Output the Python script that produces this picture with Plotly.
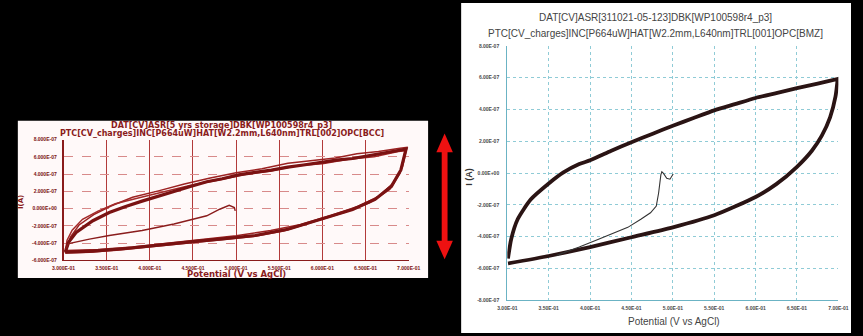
import plotly.graph_objects as go

W, H = 863, 336

# ---------------- Right chart data (reference CV) ----------------
r_lower_v = [0.3008, 0.35, 0.40, 0.45, 0.50, 0.55, 0.60, 0.625, 0.65, 0.668, 0.68, 0.69, 0.6965, 0.6992]
r_lower_i = [-5.69e-7, -5.22e-7, -4.66e-7, -4.04e-7, -3.42e-7, -2.66e-7, -1.51e-7, -0.70e-7, 0.39e-7,
             1.40e-7, 2.35e-7, 3.50e-7, 4.80e-7, 5.92e-7]
r_upper_v = [0.6992, 0.675, 0.65, 0.625, 0.60, 0.575, 0.55, 0.525, 0.50, 0.475, 0.45, 0.425, 0.40,
             0.3869, 0.3673, 0.35, 0.3282, 0.3125, 0.3047, 0.3008]
r_upper_i = [5.92e-7, 5.62e-7, 5.34e-7, 5.03e-7, 4.72e-7, 4.33e-7, 3.94e-7, 3.46e-7, 2.97e-7, 2.46e-7,
             1.94e-7, 1.38e-7, 0.80e-7, 0.56e-7, 0.02e-7, -0.66e-7, -1.67e-7, -2.91e-7, -4.15e-7, -5.38e-7]
r_first_v = [0.3595, 0.3732, 0.3869, 0.4065, 0.4300, 0.4456, 0.4613, 0.4730, 0.4800, 0.4828, 0.4855,
             0.4867, 0.4887, 0.4926, 0.4965, 0.5004]
r_first_i = [-5.18e-7, -4.93e-7, -4.66e-7, -4.25e-7, -3.73e-7, -3.42e-7, -2.91e-7, -2.50e-7, -2.08e-7,
             -1.26e-7, -0.12e-7, 0.08e-7, -0.02e-7, -0.33e-7, -0.39e-7, -0.06e-7]

r_xtick_vals = [0.30, 0.35, 0.40, 0.45, 0.50, 0.55, 0.60, 0.65, 0.70]
r_xtick_text = ["3.00E-01", "3.50E-01", "4.00E-01", "4.50E-01", "5.00E-01", "5.50E-01", "6.00E-01",
                "6.50E-01", "7.00E-01"]
r_ytick_vals = [-8e-7, -6e-7, -4e-7, -2e-7, 0, 2e-7, 4e-7, 6e-7, 8e-7]
r_ytick_text = ["-8.00E-07", "-6.00E-07", "-4.00E-07", "-2.00E-07", "0.00E+00", "2.00E-07",
                "4.00E-07", "6.00E-07", "8.00E-07"]
r_title1 = "DAT[CV]ASR[311021-05-123]DBK[WP100598r4_p3]"
r_title2 = "PTC[CV_charges]INC[P664uW]HAT[W2.2mm,L640nm]TRL[001]OPC[BMZ]"

# ---------------- Left chart data (after storage, several cycles) ----------------
l_main_v = [0.302, 0.334, 0.372, 0.409, 0.447, 0.484, 0.522, 0.560, 0.597, 0.635, 0.661, 0.680, 0.691,
            0.697, 0.691, 0.672, 0.654, 0.635, 0.616, 0.597, 0.578, 0.560, 0.541, 0.522, 0.503, 0.484,
            0.466, 0.447, 0.428, 0.409, 0.391, 0.372, 0.353, 0.334, 0.315, 0.306, 0.302]
l_main_i = [-5.05e-7, -4.94e-7, -4.63e-7, -4.30e-7, -3.87e-7, -3.52e-7, -3.12e-7, -2.40e-7, -1.22e-7,
            -0.10e-7, 1.06e-7, 2.57e-7, 4.47e-7, 6.90e-7, 6.78e-7, 6.45e-7, 6.20e-7, 5.80e-7, 5.62e-7,
            5.30e-7, 5.05e-7, 4.80e-7, 4.45e-7, 4.20e-7, 3.90e-7, 3.45e-7, 3.10e-7, 2.55e-7, 2.00e-7,
            1.45e-7, 0.86e-7, 0.25e-7, -0.46e-7, -1.41e-7, -2.73e-7, -3.87e-7, -5.05e-7]
l_cyc2_v = [0.303, 0.340, 0.380, 0.420, 0.460, 0.500, 0.540, 0.575, 0.610, 0.640, 0.665, 0.683, 0.693,
            0.698, 0.690, 0.665, 0.640, 0.615, 0.590, 0.560, 0.530, 0.500, 0.470, 0.440, 0.410, 0.380,
            0.355, 0.335, 0.318, 0.308, 0.303]
l_cyc2_i = [-4.85e-7, -4.75e-7, -4.45e-7, -4.05e-7, -3.60e-7, -3.15e-7, -2.55e-7, -1.85e-7, -0.80e-7,
            0.20e-7, 1.40e-7, 3.00e-7, 4.90e-7, 7.10e-7, 7.00e-7, 6.60e-7, 6.35e-7, 5.85e-7, 5.60e-7,
            5.25e-7, 4.60e-7, 4.15e-7, 3.55e-7, 2.85e-7, 2.05e-7, 1.30e-7, 0.30e-7, -0.70e-7, -1.90e-7,
            -3.30e-7, -4.85e-7]
l_cyc3_v = [0.302, 0.330, 0.365, 0.400, 0.440, 0.480, 0.520, 0.555, 0.590, 0.625, 0.655, 0.678, 0.690,
            0.696, 0.688, 0.660, 0.630, 0.600, 0.570, 0.540, 0.510, 0.480, 0.450, 0.420, 0.390, 0.360,
            0.340, 0.322, 0.310, 0.304, 0.302]
l_cyc3_i = [-5.15e-7, -5.05e-7, -4.80e-7, -4.45e-7, -4.00e-7, -3.60e-7, -3.25e-7, -2.60e-7, -1.55e-7,
            -0.45e-7, 0.70e-7, 2.20e-7, 4.10e-7, 6.70e-7, 6.60e-7, 6.00e-7, 5.70e-7, 5.20e-7, 4.95e-7,
            4.35e-7, 3.95e-7, 3.30e-7, 2.75e-7, 2.05e-7, 1.30e-7, 0.55e-7, -0.30e-7, -1.25e-7, -2.50e-7,
            -3.70e-7, -5.15e-7]
l_first_v = [0.302, 0.306, 0.330, 0.353, 0.391, 0.428, 0.466, 0.481, 0.492, 0.498, 0.499]
l_first_i = [-4.70e-7, -4.06e-7, -3.55e-7, -3.12e-7, -2.55e-7, -1.79e-7, -0.84e-7, -0.08e-7, 0.38e-7,
             0.11e-7, -0.27e-7]

l_xtick_vals = [0.30, 0.35, 0.40, 0.45, 0.50, 0.55, 0.60, 0.65, 0.70]
l_xtick_text = ["3.000E-01", "3.500E-01", "4.000E-01", "4.500E-01", "5.000E-01", "5.500E-01",
                "6.000E-01", "6.500E-01", "7.000E-01"]
l_ytick_vals = [-6e-7, -4e-7, -2e-7, 0, 2e-7, 4e-7, 6e-7, 8e-7]
l_ytick_text = ["-6.000E-07", "-4.000E-07", "-2.000E-07", "0.000E+00", "2.000E-07", "4.000E-07",
                "6.000E-07", "8.000E-07"]
l_title1 = "DAT[CV]ASR[5 yrs storage]DBK[WP100598r4_p3]"
l_title2 = "PTC[CV_charges]INC[P664uW]HAT[W2.2mm,L640nm]TRL[002]OPC[BCC]"

x_title = "Potential (V vs AgCl)"
y_title_r = "I (A)"
y_title_l = "I(A)"


def px(x):
    return x / W


def py(y):
    return 1 - y / H


fig = go.Figure()

# right chart traces
fig.add_trace(go.Scatter(x=r_lower_v + r_upper_v, y=r_lower_i + r_upper_i, mode="lines",
                         line=dict(color="#2a1414", width=3.8, shape="spline", smoothing=0.6),
                         xaxis="x", yaxis="y", hoverinfo="skip"))
fig.add_trace(go.Scatter(x=r_first_v, y=r_first_i, mode="lines",
                         line=dict(color="#333333", width=1.1),
                         xaxis="x", yaxis="y", hoverinfo="skip"))

# left chart traces
for vv, ii, col, wd in [(l_cyc2_v, l_cyc2_i, "#9c2222", 1.5),
                        (l_cyc3_v, l_cyc3_i, "#a32a2a", 1.5),
                        (l_main_v, l_main_i, "#7a1212", 3.2)]:
    fig.add_trace(go.Scatter(x=vv, y=ii, mode="lines", line=dict(color=col, width=wd),
                             xaxis="x2", yaxis="y2", hoverinfo="skip"))
fig.add_trace(go.Scatter(x=l_first_v, y=l_first_i, mode="lines", line=dict(color="#8a1c1c", width=1.4),
                         xaxis="x2", yaxis="y2", hoverinfo="skip"))

tick_r = dict(family="Liberation Sans", size=5, color="#4a4a4a", weight="bold")
tick_l = dict(family="Liberation Sans", size=5, color="#7a1010", weight="bold")


def paper_path(points):
    return "M " + " L ".join(f"{px(a):.5f},{py(b):.5f}" for a, b in points) + " Z"


red = "#ee1111"
fig.update_layout(
    width=W, height=H, margin=dict(l=0, r=0, t=0, b=0),
    paper_bgcolor="#000000", plot_bgcolor="rgba(0,0,0,0)", showlegend=False,
    xaxis=dict(domain=[px(509.5), px(850)], range=[0.3, 0.7], tickvals=r_xtick_vals, ticktext=r_xtick_text,
               tickfont=tick_r, showgrid=True, gridcolor="#8fcbd6", griddash="dot", gridwidth=1,
               showline=True, linecolor="#6bb3c4", linewidth=1.3, zeroline=False, ticks="",
               anchor="y", ticklabelstandoff=3),
    yaxis=dict(domain=[py(302.6), py(43.6)], range=[-8e-7, 8e-7], tickvals=r_ytick_vals, ticktext=r_ytick_text,
               tickfont=tick_r, showgrid=True, gridcolor="#8fcbd6", griddash="dot", gridwidth=1,
               showline=True, linecolor="#6bb3c4", linewidth=1.3, zeroline=False, ticks="",
               anchor="x", ticklabelstandoff=6),
    xaxis2=dict(domain=[px(53), px(408)], range=[0.3, 0.7], tickvals=l_xtick_vals, ticktext=l_xtick_text,
                tickfont=tick_l, showgrid=True, gridcolor="#b23a3a", gridwidth=1.4,
                showline=True, linecolor="#8a1c1c", linewidth=1.4, zeroline=False, ticks="",
                anchor="y2", ticklabelstandoff=2),
    yaxis2=dict(domain=[py(262), py(139)], range=[-6e-7, 8e-7], tickvals=l_ytick_vals, ticktext=l_ytick_text,
                tickfont=tick_l, showgrid=True, gridcolor="#d88a8a", griddash="dash", gridwidth=1,
                showline=True, linecolor="#8a1c1c", linewidth=1.6, zeroline=False, ticks="",
                anchor="x2", ticklabelstandoff=4),
    shapes=[
        dict(type="rect", xref="paper", yref="paper", x0=px(462), x1=1.0, y0=0, y1=1,
             fillcolor="#ffffff", line=dict(width=0), layer="below"),
        dict(type="rect", xref="paper", yref="paper", x0=px(6), x1=px(428), y0=py(280), y1=py(120),
             fillcolor="#fff9f9", line=dict(width=0), layer="below"),
        # double-headed red arrow
        dict(type="rect", xref="paper", yref="paper", x0=px(442), x1=px(448), y0=py(244), y1=py(150),
             fillcolor=red, line=dict(width=0)),
        dict(type="path", xref="paper", yref="paper",
             path=paper_path([(445, 133), (436.5, 152), (453.5, 152)]),
             fillcolor=red, line=dict(width=0)),
        dict(type="path", xref="paper", yref="paper",
             path=paper_path([(445, 261), (436.5, 242), (453.5, 242)]),
             fillcolor=red, line=dict(width=0)),
    ],
    annotations=[
        dict(text=r_title1, x=px(662), y=py(15), xref="paper", yref="paper", showarrow=False,
             font=dict(family="Liberation Sans", size=10, color="#444444"), xanchor="center", yanchor="middle"),
        dict(text=r_title2, x=px(662), y=py(31), xref="paper", yref="paper", showarrow=False,
             font=dict(family="Liberation Sans", size=10, color="#444444"), xanchor="center", yanchor="middle"),
        dict(text=x_title, x=px(681), y=py(324), xref="paper", yref="paper", showarrow=False,
             font=dict(family="Liberation Sans", size=10, color="#444444"), xanchor="center", yanchor="middle"),
        dict(text=y_title_r, x=px(470), y=py(177), xref="paper", yref="paper", showarrow=False, textangle=-90,
             font=dict(family="Liberation Sans", size=9, color="#333333", weight="bold"),
             xanchor="center", yanchor="middle"),
        dict(text=l_title1, x=px(215), y=py(124.5), xref="paper", yref="paper", showarrow=False,
             font=dict(family="DejaVu Sans", size=8, color="#8a1c1c", weight="bold"),
             xanchor="center", yanchor="middle"),
        dict(text=l_title2, x=px(216), y=py(132.5), xref="paper", yref="paper", showarrow=False,
             font=dict(family="DejaVu Sans", size=8, color="#8a1c1c", weight="bold"),
             xanchor="center", yanchor="middle"),
        dict(text=x_title, x=px(231), y=py(276), xref="paper", yref="paper", showarrow=False,
             font=dict(family="DejaVu Sans", size=8.5, color="#8a1c1c", weight="bold"),
             xanchor="center", yanchor="middle"),
        dict(text=y_title_l, x=px(10), y=py(203), xref="paper", yref="paper", showarrow=False, textangle=-90,
             font=dict(family="DejaVu Sans", size=7, color="#8a1c1c", weight="bold"),
             xanchor="center", yanchor="middle"),
    ],
)

fig.write_html("out.html")
